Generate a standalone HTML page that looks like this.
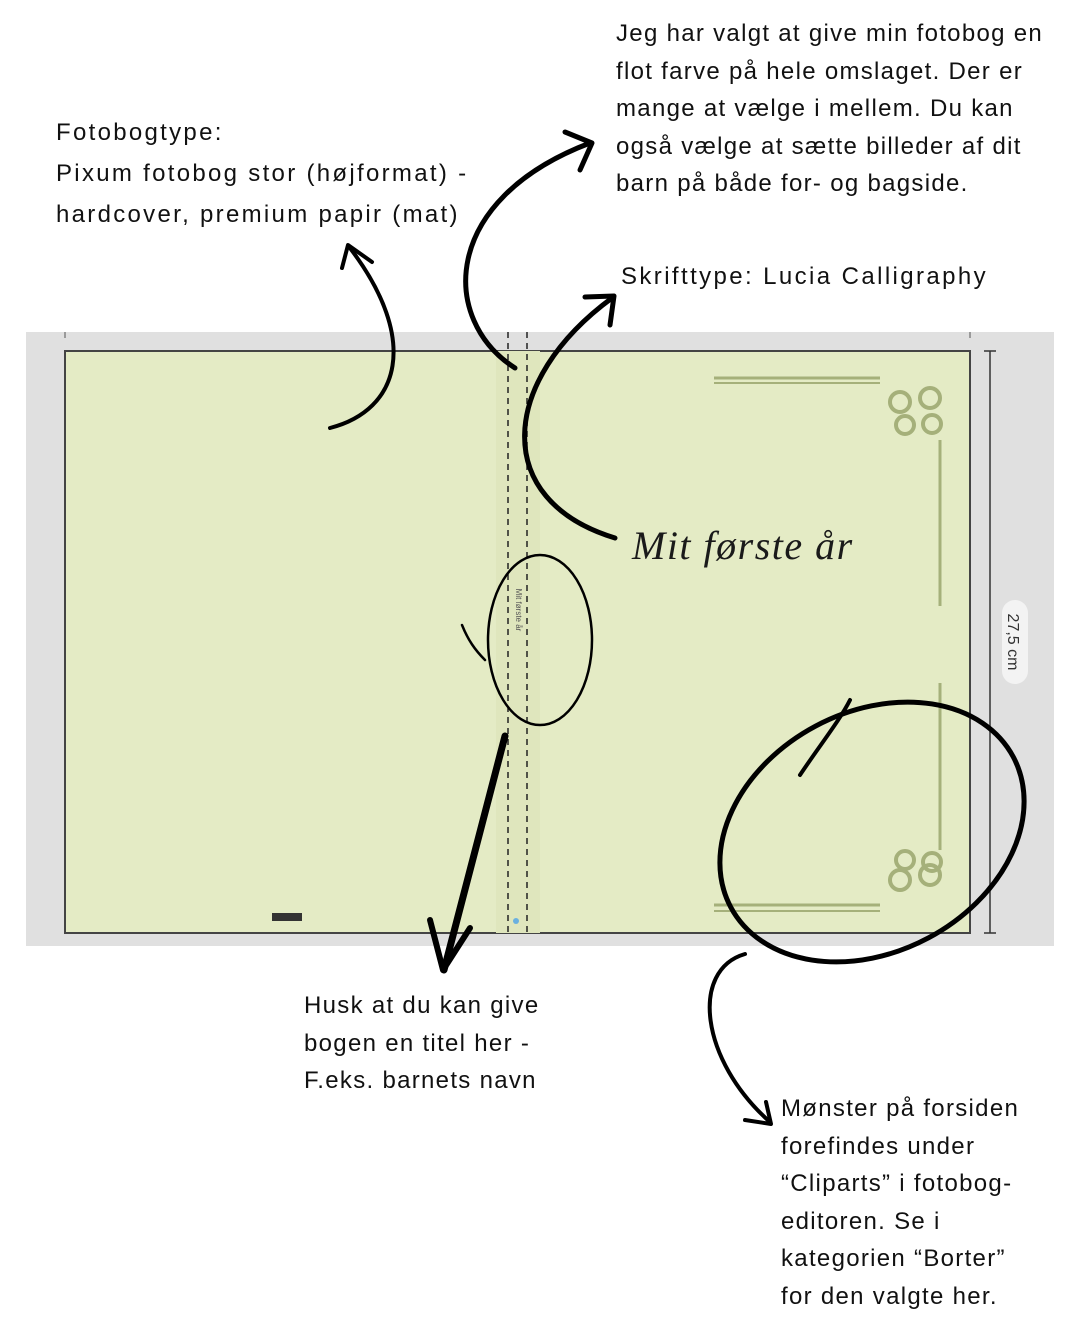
<!DOCTYPE html>
<html><head><meta charset="utf-8"><style>
body{margin:0;width:1080px;height:1336px;background:#fff;position:relative;overflow:hidden;font-family:"Liberation Sans",sans-serif;color:#111}
.t{position:absolute;font-size:24px;line-height:37.6px;white-space:nowrap;letter-spacing:1.3px}
</style></head><body>
<svg width="1080" height="1336" style="position:absolute;left:0;top:0">
<rect x="26" y="332" width="1028" height="614" fill="#e0e0e0"/>
<rect x="65" y="351" width="905" height="582" fill="#e4ebc5" stroke="#444" stroke-width="2"/>
<rect x="496" y="351" width="44" height="582" fill="#dfe6bd"/>
<line x1="508" y1="332" x2="508" y2="933" stroke="#222" stroke-width="1.5" stroke-dasharray="6,5"/>
<line x1="527" y1="332" x2="527" y2="933" stroke="#222" stroke-width="1.5" stroke-dasharray="6,5"/>
<line x1="65" y1="332" x2="65" y2="338" stroke="#555"/>
<line x1="970" y1="332" x2="970" y2="338" stroke="#555"/>
<text x="0" y="0" transform="translate(516,610) rotate(90)" font-size="8" fill="#555" text-anchor="middle">Mit første år</text>
<circle cx="516" cy="921" r="3" fill="#6ab0e0"/>
<rect x="272" y="913" width="30" height="8" fill="#333"/>
<g stroke="#a5b07a" fill="none">
<line x1="714" y1="378" x2="880" y2="378" stroke-width="3"/>
<line x1="714" y1="383" x2="880" y2="383" stroke-width="2"/>
<line x1="940" y1="440" x2="940" y2="606" stroke-width="3"/>
<line x1="714" y1="905" x2="880" y2="905" stroke-width="3"/>
<line x1="714" y1="911" x2="880" y2="911" stroke-width="2"/>
<line x1="940" y1="683" x2="940" y2="850" stroke-width="3"/>
<g stroke-width="4"><circle cx="900" cy="402" r="10"/><circle cx="930" cy="398" r="10"/><circle cx="905" cy="425" r="9"/><circle cx="932" cy="424" r="9"/></g>
<g stroke-width="4"><circle cx="900" cy="880" r="10"/><circle cx="930" cy="875" r="10"/><circle cx="905" cy="860" r="9"/><circle cx="932" cy="862" r="9"/></g>
</g>
<text x="632" y="559" font-family="Liberation Serif,serif" font-style="italic" font-size="40" letter-spacing="1.5" fill="#1a1a1a">Mit første år</text>
<line x1="990" y1="351" x2="990" y2="933" stroke="#333" stroke-width="1.5"/>
<line x1="984" y1="351" x2="996" y2="351" stroke="#333" stroke-width="1.5"/>
<line x1="984" y1="933" x2="996" y2="933" stroke="#333" stroke-width="1.5"/>
<rect x="1002" y="600" width="26" height="84" rx="13" fill="#f3f3f3"/>
<text transform="translate(1008,642) rotate(90)" font-size="16" fill="#333" text-anchor="middle">27,5 cm</text>
<g fill="none" stroke="#000" stroke-linecap="round" stroke-linejoin="round">
<path d="M330 428 C400 410 420 340 350 248" stroke-width="4"/>
<path d="M342 268 L348 245 L372 262" stroke-width="4"/>
<path d="M515 368 C440 320 440 200 590 143" stroke-width="5"/>
<path d="M565 132 L592 143 L580 170" stroke-width="5"/>
<path d="M615 538 C490 500 500 380 612 298" stroke-width="5"/>
<path d="M585 297 L614 296 L610 325" stroke-width="5"/>
<path d="M505 736 L444 970" stroke-width="7"/>
<path d="M430 920 L443 970 L470 928" stroke-width="6"/>
<path d="M745 954 C690 970 700 1060 770 1122" stroke-width="4"/>
<path d="M745 1120 L771 1124 L766 1102" stroke-width="4"/>
<ellipse cx="540" cy="640" rx="52" ry="85" stroke-width="2.5"/>
<path d="M462 625 C468 640 475 650 485 660" stroke-width="2.5"/>
<ellipse cx="872" cy="832" rx="160" ry="120" transform="rotate(-28 872 832)" stroke-width="5"/>
<path d="M800 775 C820 745 840 720 850 700" stroke-width="4"/>
</g>
</svg>
<div class="t" style="left:56px;top:112px;line-height:41px;letter-spacing:2.3px">Fotobogtype:<br>Pixum fotobog stor (højformat) -<br>hardcover, premium papir (mat)</div>
<div class="t" style="left:616px;top:15px">Jeg har valgt at give min fotobog en<br>flot farve på hele omslaget. Der er<br>mange at vælge i mellem. Du kan<br>også vælge at sætte billeder af dit<br>barn på både for- og bagside.</div>
<div class="t" style="left:621px;top:258px;letter-spacing:2.4px">Skrifttype: Lucia Calligraphy</div>
<div class="t" style="left:304px;top:987px">Husk at du kan give<br>bogen en titel her -<br>F.eks. barnets navn</div>
<div class="t" style="left:781px;top:1090px">Mønster på forsiden<br>forefindes under<br>“Cliparts” i fotobog-<br>editoren. Se i<br>kategorien “Borter”<br>for den valgte her.</div>
</body></html>
